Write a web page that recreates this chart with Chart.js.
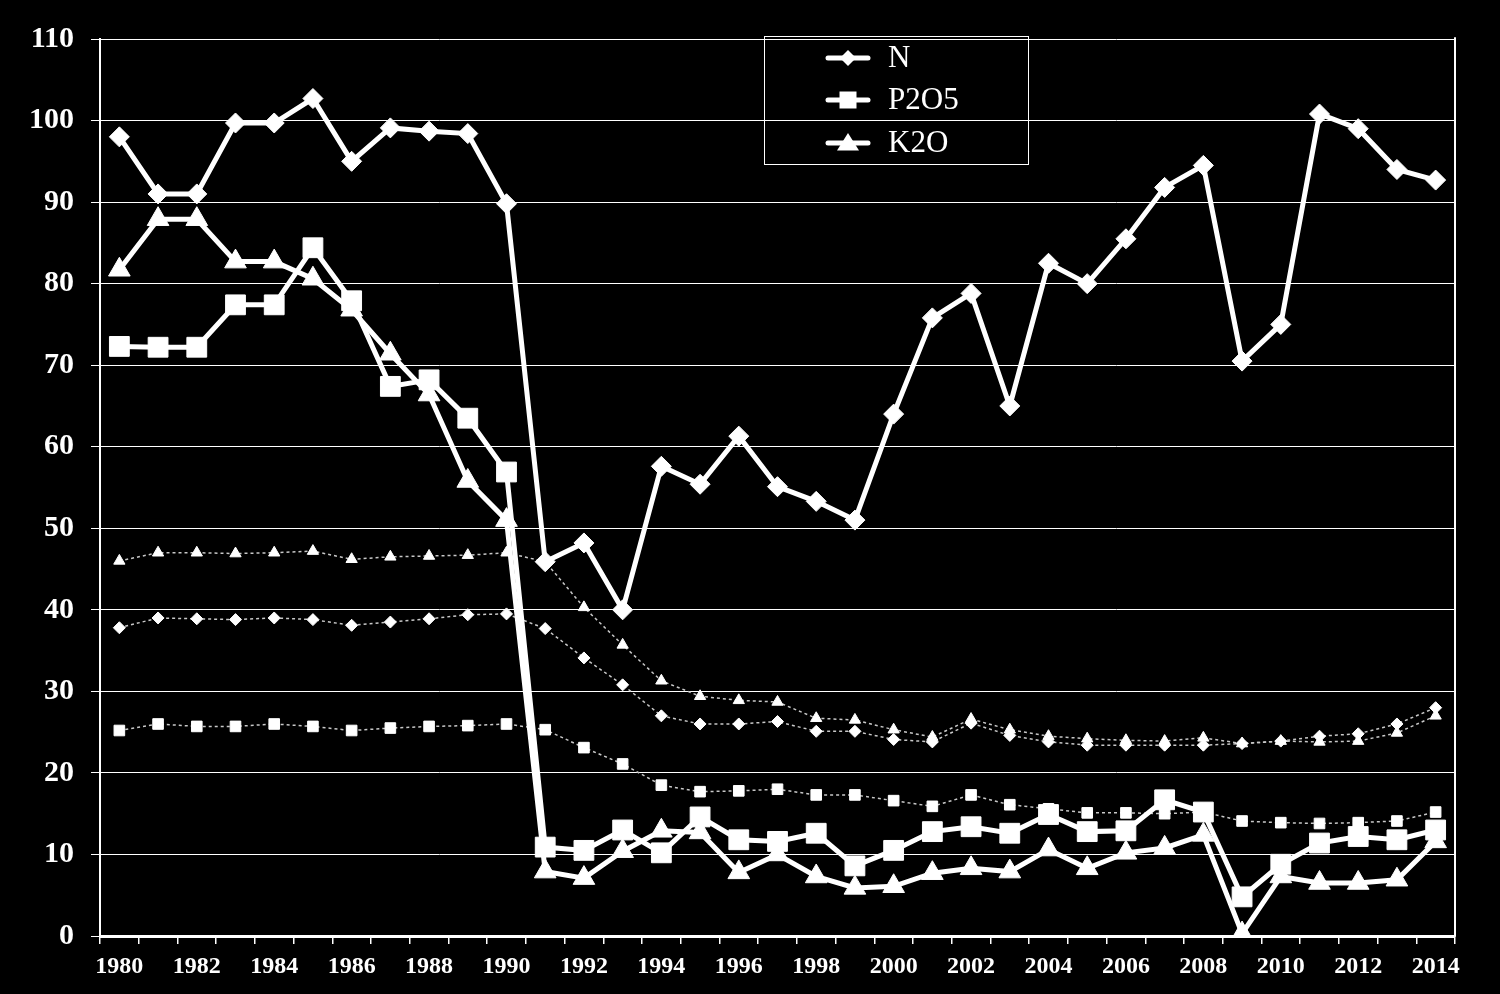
<!DOCTYPE html>
<html>
<head>
<meta charset="utf-8">
<title>N, P2O5, K2O</title>
<script src="https://cdn.jsdelivr.net/npm/chart.js@4.4.1/dist/chart.umd.min.js"></script>
<style>
  html, body { margin: 0; padding: 0; background: #000; }
  #wrap { width: 1500px; height: 994px; position: relative; background: #000; }
</style>
</head>
<body>
<div id="wrap"><canvas id="chart"></canvas></div>
<script>
// categories
const years = ['1980','1981','1982','1983','1984','1985','1986','1987','1988','1989',
               '1990','1991','1992','1993','1994','1995','1996','1997','1998','1999',
               '2000','2001','2002','2003','2004','2005','2006','2007','2008','2009',
               '2010','2011','2012','2013','2014'];

// thick series (legend)
const nValues = [98.0, 91.0, 91.0, 99.7, 99.7, 102.7, 95.0, 99.1, 98.7, 98.4,
                 89.8, 45.9, 48.2, 40.0, 57.6, 55.4, 61.3, 55.1, 53.3, 51.0,
                 64.0, 75.8, 78.8, 65.0, 82.5, 80.0, 85.5, 91.8, 94.5, 70.5,
                 75.0, 100.8, 99.0, 94.0, 92.7];
const pValues = [72.3, 72.2, 72.2, 77.4, 77.4, 84.4, 77.9, 67.4, 68.2, 63.5,
                 56.9, 10.9, 10.5, 13.0, 10.2, 14.6, 11.8, 11.6, 12.6, 8.6,
                 10.5, 12.8, 13.4, 12.6, 14.9, 12.8, 12.9, 16.7, 15.2, 4.8,
                 8.8, 11.4, 12.2, 11.8, 13.0];
const kValues = [81.7, 87.9, 87.9, 82.7, 82.7, 80.6, 76.8, 71.4, 66.4, 55.8,
                 51.0, 7.9, 7.1, 10.4, 12.9, 12.7, 7.8, 10.0, 7.3, 5.9,
                 6.1, 7.7, 8.3, 7.9, 10.6, 8.3, 10.2, 10.8, 12.4, 0.3,
                 7.3, 6.5, 6.5, 6.9, 11.6];

// thin dotted series
const nRef = [37.8, 39.0, 38.9, 38.8, 39.0, 38.8, 38.1, 38.5, 38.9, 39.4,
              39.5, 37.7, 34.1, 30.8, 27.0, 26.0, 26.0, 26.3, 25.1, 25.1,
              24.1, 23.8, 26.1, 24.6, 23.8, 23.4, 23.4, 23.4, 23.4, 23.6,
              23.9, 24.5, 24.8, 26.0, 28.0];
const pRef = [25.2, 26.0, 25.7, 25.7, 26.0, 25.7, 25.2, 25.5, 25.7, 25.8,
              26.0, 25.3, 23.1, 21.1, 18.5, 17.7, 17.8, 18.0, 17.3, 17.3,
              16.6, 15.9, 17.3, 16.1, 15.6, 15.1, 15.1, 15.0, 15.2, 14.1,
              13.9, 13.8, 13.9, 14.1, 15.2];
const kRef = [46.0, 47.0, 47.0, 46.9, 47.0, 47.2, 46.2, 46.5, 46.6, 46.7,
              47.0, 45.9, 40.3, 35.7, 31.3, 29.4, 28.9, 28.7, 26.7, 26.5,
              25.3, 24.4, 26.6, 25.3, 24.5, 24.2, 24.0, 23.9, 24.3, 23.6,
              23.9, 23.8, 23.9, 24.9, 27.0];

const seriesNames = ['N', 'P2O5', 'K2O'];

const serif = '"Liberation Serif", "Times New Roman", serif';

function thick(label, data, style, radius) {
    return {
        label: label,
        data: data,
        borderColor: '#fff',
        backgroundColor: '#fff',
        borderWidth: 5,
        pointStyle: style,
        pointRadius: radius,
        pointBorderWidth: 1,
        pointBackgroundColor: '#fff',
        pointBorderColor: '#fff',
        tension: 0
    };
}

function dotted(label, data, style, radius) {
    return {
        label: label,
        data: data,
        borderColor: '#c8c8c8',
        backgroundColor: '#fff',
        borderWidth: 1.5,
        borderDash: [3, 3],
        pointStyle: style,
        pointRadius: radius,
        pointBorderWidth: 1,
        pointBackgroundColor: '#fff',
        pointBorderColor: '#fff',
        tension: 0
    };
}

// legend with line + marker inside a framed box
function drawMarker(ctx, style, x, y, r) {
    ctx.beginPath();
    if (style === 'rectRot') {
        ctx.moveTo(x - r, y); ctx.lineTo(x, y - r); ctx.lineTo(x + r, y); ctx.lineTo(x, y + r);
    } else if (style === 'rect') {
        ctx.rect(x - r, y - r, 2 * r, 2 * r);
    } else {
        const w = r * 1.1;
        ctx.moveTo(x, y - r); ctx.lineTo(x + w, y + r * 0.75); ctx.lineTo(x - w, y + r * 0.75);
    }
    ctx.closePath();
    ctx.fill();
}

const boxLegend = {
    id: 'boxLegend',
    afterDraw(chart) {
        const ctx = chart.ctx;
        ctx.save();
        ctx.strokeStyle = '#fff';
        ctx.lineWidth = 1;
        ctx.strokeRect(764.5, 36.5, 264, 128);
        const rows = [58, 100, 143];
        const styles = [['rectRot', 8], ['rect', 8.5], ['triangle', 10]];
        ctx.fillStyle = '#fff';
        ctx.font = '31px ' + serif;
        ctx.textBaseline = 'middle';
        rows.forEach((y, i) => {
            ctx.beginPath();
            ctx.lineWidth = 5;
            ctx.lineCap = 'round';
            ctx.moveTo(828, y);
            ctx.lineTo(868, y);
            ctx.stroke();
            drawMarker(ctx, styles[i][0], 848, y, styles[i][1]);
            ctx.fillText(seriesNames[i], 888, y + 1);
        });
        // right frame of the plot area
        const a = chart.chartArea;
        ctx.lineWidth = 2;
        ctx.beginPath();
        ctx.moveTo(a.right, a.top - 1);
        ctx.lineTo(a.right, a.bottom);
        ctx.stroke();
        ctx.restore();
    }
};

Chart.defaults.font.family = serif;
Chart.defaults.color = '#fff';

const chart = new Chart(document.getElementById('chart'), {
    type: 'line',
    data: {
        labels: years,
        datasets: [
            thick(seriesNames[0], nValues, 'rectRot', 10),
            thick(seriesNames[1], pValues, 'rect', 14),
            thick(seriesNames[2], kValues, 'triangle', 12.5),
            dotted('N ref', nRef, 'rectRot', 6),
            dotted('P2O5 ref', pRef, 'rect', 7.5),
            dotted('K2O ref', kRef, 'triangle', 6.5)
        ]
    },
    options: {
        responsive: true,
        maintainAspectRatio: false,
        animation: false,
        layout: { padding: { top: 39, right: 45, left: 0, bottom: 0 } },
        plugins: {
            legend: { display: false },
            tooltip: { enabled: false }
        },
        scales: {
            x: {
                offset: true,
                grid: { display: true, offset: true, drawOnChartArea: false, color: '#fff', tickLength: 8, lineWidth: 1.5 },
                border: { color: '#fff', width: 3 },
                ticks: {
                    autoSkip: false,
                    maxRotation: 0,
                    padding: 8,
                    color: '#fff',
                    font: { size: 24, weight: 'bold', family: serif },
                    callback: (v, i) => i % 2 === 0 ? years[i] : ''
                },
                afterFit: s => { s.height = 58; }
            },
            y: {
                min: 0,
                max: 110,
                ticks: {
                    stepSize: 10,
                    padding: 17,
                    color: '#fff',
                    font: { size: 30, weight: 'bold', family: serif }
                },
                grid: { color: '#fff', lineWidth: 1, tickLength: 9 },
                border: { color: '#fff', width: 2 },
                afterFit: s => { s.width = 100; }
            }
        }
    },
    plugins: [boxLegend]
});
</script>
</body>
</html>
